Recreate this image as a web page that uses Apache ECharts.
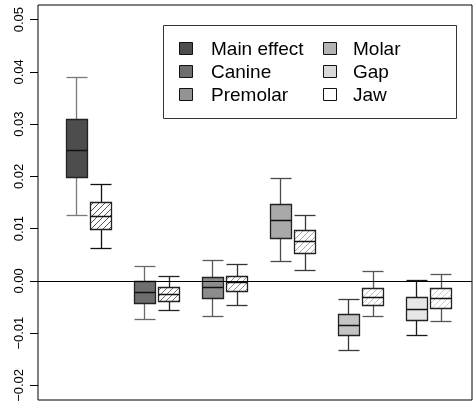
<!DOCTYPE html>
<html>
<head>
<meta charset="utf-8">
<script src="https://cdn.jsdelivr.net/npm/echarts@6/dist/echarts.min.js"></script>
<style>
  html, body { margin: 0; padding: 0; background: #fff; }
  #chart { width: 476px; height: 405px; }
</style>
</head>
<body>
<div id="chart"></div>
<script>
// Effect groups shown in the legend (column-major: 3 rows x 2 columns)
const legendLabels = ['Main effect', 'Canine', 'Premolar', 'Molar', 'Gap', 'Jaw'];
const legendFill = ['#4d4d4d', '#6e6e6e', '#939393', '#b3b3b3', '#d9d9d9', '#ffffff'];

// Box statistics per group: [lower whisker, Q1, median, Q3, upper whisker]
const solidStats = [
  [0.0127, 0.0199, 0.0251, 0.0309, 0.0390],
  [-0.0073, -0.0043, -0.0022, -0.0001, 0.0029],
  [-0.0068, -0.0033, -0.0012, 0.0008, 0.0040],
  [0.0038, 0.0082, 0.0116, 0.0148, 0.0196],
  [-0.0133, -0.0104, -0.0084, -0.0063, -0.0034],
  [-0.0104, -0.0074, -0.0053, -0.0031, 0.0001]
];
const hatchedStats = [
  [0.0062, 0.0100, 0.0125, 0.0151, 0.0186],
  [-0.0055, -0.0038, -0.0025, -0.0011, 0.0009],
  [-0.0046, -0.0020, -0.0003, 0.0010, 0.0032],
  [0.0021, 0.0053, 0.0076, 0.0097, 0.0127],
  [-0.0067, -0.0046, -0.0030, -0.0013, 0.0018],
  [-0.0076, -0.0052, -0.0033, -0.0014, 0.0014]
];

// Y axis tick values
const yTicks = [-0.02, -0.01, 0.00, 0.01, 0.02, 0.03, 0.04, 0.05];

// Styling per group
const boxFill = ['#4d4d4d', '#6e6e6e', '#8c8c8c', '#a9a9a9', '#c4c4c4', '#e6e6e6'];
const solidWhisker = ['#7a7a7a', '#6a6a6a', '#5a5a5a', '#4a4a4a', '#3a3a3a', '#1a1a1a'];
const hatchWhisker = ['#111111', '#222222', '#333333', '#3a3a3a', '#555555', '#555555'];
const hatchColor = ['#555555', '#777777', '#8f8f8f', '#a6a6a6', '#bdbdbd', '#cccccc'];

const PAIR_OFFSET = 0.361;
const HALF_W = 0.154;

const boxData = [];
solidStats.forEach((s, i) => boxData.push([i + 1, ...s, i, 0]));
hatchedStats.forEach((s, i) => boxData.push([i + 1 + PAIR_OFFSET, ...s, i, 1]));

function px(v) { return Math.round(v) + 0.5; }

function renderBox(params, api) {
  const x = api.value(0);
  const lo = api.value(1), q1 = api.value(2), md = api.value(3), q3 = api.value(4), hi = api.value(5);
  const gi = api.value(6), hatched = api.value(7);
  const xl = px(api.coord([x - HALF_W, 0])[0]);
  const xr = px(api.coord([x + HALF_W, 0])[0]);
  const xc = px(api.coord([x, 0])[0]);
  const yLo = px(api.coord([x, lo])[1]);
  const yQ1 = px(api.coord([x, q1])[1]);
  const yMd = px(api.coord([x, md])[1]);
  const yQ3 = px(api.coord([x, q3])[1]);
  const yHi = px(api.coord([x, hi])[1]);
  const wc = hatched ? hatchWhisker[gi] : solidWhisker[gi];
  const children = [];
  const seg = (x1, y1, x2, y2, stroke, lw) => children.push({
    type: 'line', shape: { x1, y1, x2, y2 }, style: { stroke, lineWidth: lw || 1.3 }
  });
  // whiskers and caps
  seg(xc, yQ3, xc, yHi, wc);
  seg(xc, yQ1, xc, yLo, wc);
  seg(xl, yHi, xr, yHi, wc);
  seg(xl, yLo, xr, yLo, wc);
  // box body
  children.push({
    type: 'rect',
    shape: { x: xl, y: yQ3, width: xr - xl, height: yQ1 - yQ3 },
    style: { fill: hatched ? '#ffffff' : boxFill[gi], stroke: 'none' }
  });
  if (hatched) {
    const x0 = xl, y0 = yQ3, w = xr - xl, h = yQ1 - yQ3;
    const step = 6;
    for (let c = x0 + y0 + 3; c < x0 + w + y0 + h; c += step) {
      const xa = Math.max(x0, c - (y0 + h));
      const xb = Math.min(x0 + w, c - y0);
      if (xb > xa) seg(xa, c - xa, xb, c - xb, hatchColor[gi], 1);
    }
  }
  children.push({
    type: 'rect',
    shape: { x: xl, y: yQ3, width: xr - xl, height: yQ1 - yQ3 },
    style: { fill: 'none', stroke: '#222222', lineWidth: 1.3 }
  });
  // median
  children.push({
    type: 'line', shape: { x1: xl, y1: yMd, x2: xr, y2: yMd },
    style: { stroke: '#111111', lineWidth: 1.5 }
  });
  return { type: 'group', children };
}

// Legend drawn as graphic elements inside a framed box
const legendGraphics = [
  {
    type: 'rect', shape: { x: 163.5, y: 25.5, width: 293, height: 93 },
    style: { fill: '#ffffff', stroke: '#333333', lineWidth: 1 }, z: 10
  }
];
legendLabels.forEach((name, i) => {
  const col = Math.floor(i / 3), row = i % 3;
  const sx = col === 0 ? 179.5 : 323.5;
  const tx = col === 0 ? 211 : 353;
  const cy = 49 + row * 23;
  legendGraphics.push({
    type: 'rect', shape: { x: sx, y: cy - 6.5, width: 13, height: 12 },
    style: { fill: legendFill[i], stroke: '#111111', lineWidth: 1 }, z: 11
  });
  legendGraphics.push({
    type: 'text', x: tx, y: cy + 1,
    style: {
      text: name, fill: '#000000', font: '19px "Liberation Sans", Arial, sans-serif',
      textAlign: 'left', textVerticalAlign: 'middle'
    }, z: 11
  });
});

const chart = echarts.init(document.getElementById('chart'), null, { renderer: 'canvas' });
chart.setOption({
  animation: false,
  backgroundColor: '#ffffff',
  grid: {
    left: 38, right: 4, top: 5, bottom: 5,
    show: true, borderColor: '#000000', borderWidth: 1, backgroundColor: 'transparent'
  },
  xAxis: {
    type: 'value', min: 0.437, max: 6.82,
    axisLine: { show: false }, axisTick: { show: false },
    axisLabel: { show: false }, splitLine: { show: false }
  },
  yAxis: {
    type: 'value', min: -0.0228, max: 0.0528,
    axisLine: { show: false },
    splitLine: { show: false },
    axisTick: {
      show: true, length: 8, customValues: yTicks,
      lineStyle: { color: '#000000', width: 1 }
    },
    axisLabel: {
      show: true, customValues: yTicks, rotate: 90, margin: 12,
      color: '#000000', fontSize: 13, fontFamily: '"Liberation Sans", Arial, sans-serif',
      formatter: v => (v < 0 ? '\u2212' : '') + Math.abs(v).toFixed(2)
    }
  },
  series: [{
    type: 'custom',
    renderItem: renderBox,
    data: boxData,
    encode: { x: 0, y: [1, 2, 3, 4, 5] },
    clip: true,
    markLine: {
      silent: true, symbol: 'none', z: 5,
      label: { show: false },
      lineStyle: { color: '#000000', width: 1, type: 'solid' },
      data: [{ yAxis: 0 }]
    }
  }],
  graphic: legendGraphics
});
</script>
</body>
</html>
